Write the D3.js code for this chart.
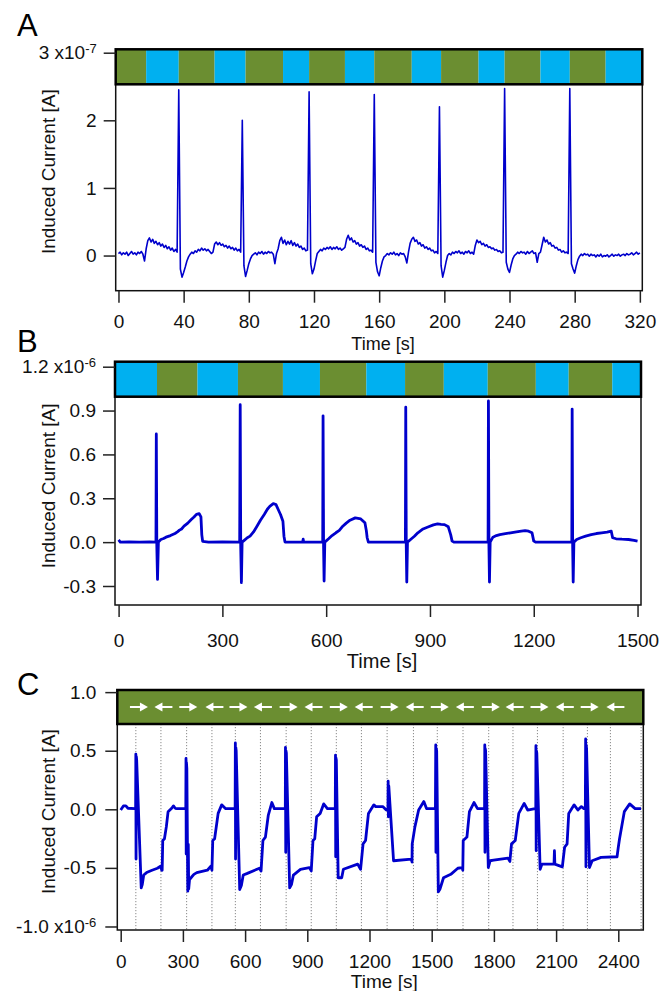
<!DOCTYPE html>
<html>
<head>
<meta charset="utf-8">
<script src="https://cdn.jsdelivr.net/npm/d3@7/dist/d3.min.js"></script>
<style>
  body { margin: 0; background: #fff; }
  svg { display: block; font-family: "Liberation Sans", Arial, Helvetica, sans-serif; }
</style>
</head>
<body>
<svg width="662" height="991"></svg>
<script>
// ---------- data ----------

// panel A: induced current (x1e-7 A), one sample per second, t = 0..320 s
const currentA = [
  0.03,0.05,0.01,0.04,0.02,0.05,0.00,0.03,0.06,0.02,0.04,0.01,0.05,0.03,0.06,0.02,-0.08,0.10,0.22,0.26,
  0.20,0.24,0.18,0.21,0.16,0.19,0.14,0.17,0.12,0.15,0.10,0.13,0.08,0.11,0.06,0.09,0.05,2.45,-0.20,-0.32,
  -0.25,-0.17,-0.08,-0.02,0.02,0.05,0.03,0.07,0.05,0.09,0.07,0.11,0.08,0.10,0.07,0.09,0.06,0.03,0.05,0.17,
  0.20,0.16,0.19,0.15,0.17,0.13,0.15,0.11,0.14,0.10,0.12,0.08,0.11,0.07,0.09,0.05,2.00,-0.15,-0.31,-0.22,
  -0.12,-0.05,0.00,0.02,0.04,0.01,0.05,0.03,0.06,0.02,0.05,0.03,0.06,0.04,0.05,0.02,-0.12,0.03,0.10,0.22,
  0.27,0.18,0.23,0.16,0.21,0.17,0.22,0.15,0.19,0.14,0.17,0.12,0.14,0.09,0.11,0.07,0.08,2.42,-0.12,-0.27,
  -0.20,-0.08,0.03,0.06,0.09,0.07,0.11,0.09,0.12,0.10,0.13,0.09,0.12,0.10,0.13,0.09,0.11,0.08,0.10,0.12,
  0.24,0.30,0.23,0.26,0.20,0.22,0.17,0.19,0.14,0.16,0.12,0.14,0.09,0.11,0.07,0.08,0.05,2.38,-0.10,-0.24,
  -0.30,-0.18,-0.08,-0.02,0.00,0.03,0.01,0.04,0.02,0.05,0.01,0.03,0.00,0.04,0.02,0.03,-0.02,-0.11,0.05,0.18,
  0.24,0.27,0.21,0.23,0.17,0.19,0.14,0.16,0.11,0.13,0.09,0.11,0.07,0.08,0.04,0.06,0.03,2.20,-0.15,-0.32,
  -0.22,-0.10,0.00,0.03,0.01,0.05,0.03,0.06,0.04,0.07,0.03,0.05,0.02,0.06,0.04,0.07,0.03,0.05,0.02,0.15,
  0.23,0.19,0.21,0.16,0.18,0.14,0.16,0.12,0.13,0.10,0.11,0.08,0.09,0.06,0.07,0.04,0.05,2.47,-0.10,-0.20,
  -0.25,-0.14,-0.05,0.00,0.02,0.05,0.03,0.06,0.04,0.05,0.02,0.06,0.03,0.05,0.07,0.03,0.04,-0.10,0.03,0.05,
  0.16,0.27,0.20,0.23,0.17,0.19,0.14,0.15,0.11,0.12,0.08,0.09,0.05,0.07,0.04,0.05,0.03,2.47,-0.12,-0.20,
  -0.26,-0.15,-0.06,-0.01,0.02,0.00,0.03,0.01,0.02,-0.01,0.02,0.00,0.01,-0.02,0.01,-0.01,0.02,-0.02,0.00,-0.01,
  0.01,-0.02,0.00,0.02,-0.01,0.01,0.00,0.02,-0.01,0.01,0.02,0.00,0.03,0.01,0.02,0.04,0.01,0.03,0.05,0.02,0.04
];
// light bar A: switch times (s), first block green
const barEdgesA = [17, 37, 59, 78, 101, 117, 139, 157, 180, 198, 221, 237, 259, 277, 299];

// panel B: [time s, current x1e-6 A]
const traceB = [
  [0,0.015],[5,0.0],[30,0.002],[60,0.0],[90,0.001],[108,0.0],
  [109,0.74],[110.5,-0.03],[112.5,-0.255],[115,0.0],[122,0.018],[130,0.025],[137,0.034],[150,0.045],[163,0.059],
  [170,0.07],[176,0.082],[182,0.09],[189,0.109],[200,0.13],[210,0.155],[218,0.172],[225,0.19],[233,0.195],
  [238,0.173],[240.5,0.05],[243,0.005],[260,0.0],[300,0.001],[350,0.0],
  [351.5,0.94],[353,-0.03],[355,-0.277],[357,0.0],[364,0.014],[372,0.03],[380,0.041],[390,0.07],[400,0.109],
  [410,0.15],[421,0.189],[430,0.225],[437,0.245],[447,0.264],[455,0.257],[462,0.22],[468,0.189],[475,0.143],
  [478,0.041],[481,0.0],[532,0.0],[533.5,0.02],[535,0.0],[590,0.0],
  [591,0.864],[592.5,-0.03],[594,-0.266],[596,0.0],[607,0.023],[617,0.045],[628,0.064],[638,0.08],[648,0.109],
  [658,0.13],[669,0.15],[684,0.166],[700,0.159],[712,0.132],[716,0.08],[718.5,0.03],[722,0.0],[829,0.0],
  [830,0.923],[831.5,-0.03],[833,-0.273],[835,0.0],[844,0.018],[855,0.04],[865,0.064],[880,0.09],[896,0.105],
  [910,0.118],[922,0.125],[932,0.122],[942,0.12],[953,0.105],[960,0.05],[964,0.007],[970,0.0],[1068,0.0],
  [1069,0.966],[1070.5,-0.03],[1072,-0.273],[1074,0.0],[1082,0.034],[1092,0.045],[1102,0.052],[1118,0.058],
  [1133,0.064],[1150,0.07],[1164,0.075],[1175,0.078],[1185,0.075],[1195,0.064],[1200,0.007],[1206,0.0],[1310,0.0],
  [1311,0.91],[1312.5,-0.03],[1314,-0.273],[1316,0.0],[1324,0.018],[1336,0.03],[1350,0.041],[1366,0.052],
  [1381,0.059],[1396,0.064],[1412,0.068],[1424,0.075],[1428,0.03],[1438,0.023],[1455,0.02],[1474,0.018],
  [1490,0.012],[1500,0.007]
];
// light bar B: switch times (s), first block blue
const barEdgesB = [111, 228, 345, 475, 582, 716, 828, 940, 1067, 1206, 1301, 1427];

// panel C: [time s, current x1e-6 A]
const traceC = [
  [0,-0.006],[13,0.029],[25,0.029],[35,0.009],[68,0.006],
  [72,0.0],[73,0.471],[74,-0.425],[75.5,0.45],[77,0.42],[99,-0.671],[104,-0.642],[111,-0.561],[125,-0.54],
  [151,-0.52],[177,-0.503],[194,-0.483],[197.6,-0.52],[200,-0.52],
  [202.8,-0.266],[211,-0.251],[220,-0.15],[228.6,-0.02],[237,-0.006],[246,0.009],[254.5,0.029],[263,0.009],
  [272,0.006],[310,0.006],
  [314,0.006],[315,0.434],[316,-0.382],[317,0.4],[319,0.35],[323.6,-0.699],[326,-0.3],[328,-0.68],[332,-0.6],
  [341,-0.58],[353,-0.555],[367,-0.54],[418,-0.52],[436,-0.483],[440,-0.52],
  [444,-0.266],[453,-0.251],[470,-0.035],[487,0.038],[505,0.006],[548,0.006],
  [552,0.006],[553,0.566],[554,-0.425],[555,0.53],[557,0.5],[574,-0.685],[582,-0.65],[591,-0.561],[608,-0.549],
  [669,-0.503],[677,-0.526],
  [686,-0.266],[698,-0.237],[712,-0.049],[729,0.058],[741,0.006],[790,0.006],
  [794,0.006],[794.7,0.529],[796,-0.367],[797,0.5],[799,0.48],[815,-0.671],[824,-0.64],[833,-0.561],
  [867,-0.512],[910,-0.497],[919,-0.526],
  [927.5,-0.266],[936,-0.251],[945,-0.064],[962,-0.035],[979,0.046],[997,0.006],[1031,0.006],
  [1035,0.006],[1036,0.462],[1037,-0.405],[1038,0.44],[1040,0.42],[1049,-0.584],[1066,-0.584],[1074,-0.512],
  [1143,-0.468],[1157,-0.512],
  [1169,-0.295],[1181,-0.266],[1195,-0.035],[1221,0.038],[1230,0.023],[1264,0.023],[1281,-0.006],
  [1289,0.0],[1290,0.24],[1291,-0.064],[1293,0.2],[1316,-0.439],[1402,-0.425],[1405,-0.45],
  [1406,-0.295],[1419,-0.15],[1437,-0.006],[1462,0.066],[1475,0.006],[1514,0.006],
  [1518,0.006],[1519.5,0.549],[1520.5,-0.367],[1522,0.52],[1524,0.5],[1532,-0.705],[1540,-0.68],[1557,-0.584],
  [1592,-0.555],[1626,-0.503],[1647,-0.497],[1650,-0.52],
  [1652,-0.266],[1670,-0.237],[1682,-0.02],[1704,0.058],[1721,0.006],[1751,0.006],
  [1755,0.006],[1756,0.549],[1757,-0.367],[1758,0.52],[1760,0.5],[1773,-0.497],[1782,-0.439],[1799,-0.434],
  [1868,-0.416],[1877,-0.445],
  [1885,-0.295],[1903,-0.266],[1920,-0.035],[1946,0.05],[1963,-0.006],[1998,0.006],
  [2002,0.006],[2002.7,0.543],[2004,-0.353],[2005,0.5],[2007,0.48],[2023,-0.512],[2032,-0.468],[2090,-0.468],
  [2092,-0.353],[2094,-0.468],[2130,-0.491],
  [2141,-0.324],[2153,-0.295],[2161,-0.035],[2187,0.038],[2205,-0.006],[2222,0.023],[2234,0.006],
  [2241,0.006],[2242.5,0.601],[2244,-0.491],[2245,0.55],[2247,0.52],[2261,-0.497],[2274,-0.439],[2317,-0.41],
  [2394,-0.405],
  [2400,-0.324],[2406,-0.251],[2429,-0.02],[2455,0.046],[2481,0.006],[2510,0.006]
];
// dotted markers (s) and arrow marks in the bar of panel C
const markTimesC = [73, 194, 318, 440, 553, 674, 798, 919, 1040, 1161, 1285, 1412, 1527, 1651, 1775, 1892, 2010, 2134, 2251, 2362, 2510];
const arrowTimesC = [88, 206, 326, 452, 568, 686, 810, 930, 1052, 1172, 1297, 1418, 1539, 1660, 1785, 1900, 2020, 2142, 2262, 2386];
const arrowDirC = ['R','L','R','L','R','L','R','L','R','L','R','L','R','L','R','L','R','L','R','L'];

// axis ticks
const xTicksA = [0, 40, 80, 120, 160, 200, 240, 280, 320];
const xTicksB = [0, 300, 600, 900, 1200, 1500];
const xTicksC = [0, 300, 600, 900, 1200, 1500, 1800, 2100, 2400];
const yTicksA = [0, 1, 2, 3];
const yTicksB = [-0.3, 0, 0.3, 0.6, 0.9, 1.2];
const yTicksC = [-1, -0.5, 0, 0.5, 1];

// ---------- drawing ----------
const svg = d3.select('svg');
const GREEN = '#6b8e31', BLUE = '#00b0f0', TRACE = '#0000cc';
const FONT = '"Liberation Sans", Arial, Helvetica, sans-serif';

function segmentsFrom(edges, domain, first) {
  const other = first === GREEN ? BLUE : GREEN;
  const starts = [domain[0], ...edges];
  const ends = [...edges, domain[1]];
  return starts.map((s, i) => ({ s, e: ends[i], c: i % 2 === 0 ? first : other }));
}

function drawPanel(p, idx) {
  const x = d3.scaleLinear().domain(p.xDomain).range([p.left, p.right]);
  const y = d3.scaleLinear().domain(p.yDomain).range([p.bottom, p.yTopPx]);
  const g = svg.append('g');

  // panel letter
  g.append('text').attr('x', 17).attr('y', p.letterY)
    .attr('font-size', 31).attr('font-family', FONT).attr('fill', '#000')
    .text(p.letter);

  // clip for the trace
  const clipId = 'clip' + idx;
  svg.append('clipPath').attr('id', clipId).append('rect')
    .attr('x', p.left).attr('y', p.plotTop)
    .attr('width', p.right - p.left).attr('height', p.bottom - p.plotTop);

  // top bar
  const bar = g.append('g');
  if (p.segments) {
    bar.selectAll('rect').data(p.segments).enter().append('rect')
      .attr('x', d => x(d.s)).attr('width', d => x(d.e) - x(d.s))
      .attr('y', p.barTop).attr('height', p.plotTop - p.barTop)
      .attr('fill', d => d.c);
  } else {
    bar.append('rect').attr('x', p.left).attr('width', p.right - p.left)
      .attr('y', p.barTop).attr('height', p.plotTop - p.barTop).attr('fill', GREEN);
  }

  // dotted markers (panel C)
  if (p.marks) {
    g.selectAll('line.mark').data(p.marks).enter().append('line')
      .attr('x1', d => x(d)).attr('x2', d => x(d))
      .attr('y1', p.plotTop).attr('y2', p.bottom)
      .attr('stroke', '#8a8a8a').attr('stroke-width', 1)
      .attr('stroke-dasharray', '1.2,1.8');
  }

  // trace
  const line = d3.line().x(d => x(d[0])).y(d => y(d[1]));
  g.append('path').datum(p.trace)
    .attr('clip-path', `url(#${clipId})`)
    .attr('d', line)
    .attr('fill', 'none').attr('stroke', TRACE)
    .attr('stroke-width', p.lw).attr('stroke-linejoin', 'round');

  // frames
  g.append('rect').attr('x', p.left).attr('y', p.plotTop)
    .attr('width', p.right - p.left).attr('height', p.bottom - p.plotTop)
    .attr('fill', 'none').attr('stroke', '#111').attr('stroke-width', 1.5);
  g.append('rect').attr('x', p.left).attr('y', p.barTop)
    .attr('width', p.right - p.left).attr('height', p.plotTop - p.barTop)
    .attr('fill', 'none').attr('stroke', '#000').attr('stroke-width', 2.5);

  // arrows in bar (panel C)
  if (p.arrows) {
    const cy = (p.barTop + p.plotTop) / 2;
    const ag = g.selectAll('g.arrow').data(p.arrows).enter().append('g')
      .attr('transform', d => `translate(${x(d.t)},${cy}) scale(${d.dir === 'R' ? 1 : -1},1)`);
    ag.append('line').attr('x1', -9).attr('x2', 2).attr('y1', 0).attr('y2', 0)
      .attr('stroke', '#fff').attr('stroke-width', 2);
    ag.append('path').attr('d', 'M1,-4.5L9,0L1,4.5Z').attr('fill', '#fff');
  }

  // y axis
  const ya = g.append('g').attr('transform', `translate(${p.left},0)`)
    .call(d3.axisLeft(y).tickValues(p.yTicks).tickSize(12).tickPadding(p.yPad)
      .tickFormat(p.yFormat));
  ya.select('.domain').remove();
  ya.selectAll('.tick line').attr('stroke', '#222').attr('stroke-width', 1.5);
  ya.selectAll('.tick text').attr('font-size', 19).attr('font-family', FONT).attr('fill', '#111');
  ya.selectAll('.tick').filter(d => d === p.expTick).select('text')
    .append('tspan').attr('dy', '-0.5em').attr('font-size', 13).text(p.exp);

  // x axis
  const xa = g.append('g').attr('transform', `translate(0,${p.bottom})`)
    .call(d3.axisBottom(x).tickValues(p.xTicks).tickSize(12).tickPadding(p.xPad)
      .tickFormat(d3.format('d')));
  xa.select('.domain').remove();
  xa.selectAll('.tick line').attr('stroke', '#222').attr('stroke-width', 1.5);
  xa.selectAll('.tick text').attr('font-size', 19).attr('font-family', FONT).attr('fill', '#111');

  // axis titles
  g.append('text').attr('x', (p.left + p.right) / 2 + 4).attr('y', p.timeY)
    .attr('text-anchor', 'middle').attr('font-size', p.timeSize)
    .attr('font-family', FONT).attr('fill', '#111').text('Time [s]');
  const yMid = (p.bottom + p.yTopPx) / 2;
  g.append('text').attr('transform', `translate(55,${yMid}) rotate(-90)`)
    .attr('text-anchor', 'middle').attr('font-size', 19)
    .attr('font-family', FONT).attr('fill', '#111').text('Induced Current [A]');
}

const fmt1 = d => d.toFixed(1);

const panels = [
  {
    letter: 'A', letterY: 36,
    left: 115.7, right: 642.3, barTop: 49.3, plotTop: 84.3, bottom: 290.7, yTopPx: 52.7,
    xDomain: [-1.7, 321.5], yDomain: [-0.52, 3],
    trace: currentA.map((v, i) => [i, v]), lw: 1.6,
    segments: segmentsFrom(barEdgesA, [-1.7, 321.5], GREEN),
    xTicks: xTicksA, yTicks: yTicksA, yPad: 7, xPad: 12,
    yFormat: d => d === 3 ? '3 x10' : String(d), expTick: 3, exp: '-7',
    timeY: 350, timeSize: 18
  },
  {
    letter: 'B', letterY: 352,
    left: 115, right: 641, barTop: 361.7, plotTop: 396.7, bottom: 605, yTopPx: 366.7,
    xDomain: [-10.4, 1510], yDomain: [-0.43, 1.2],
    trace: traceB, lw: 2.8,
    segments: segmentsFrom(barEdgesB, [-10.4, 1510], BLUE),
    xTicks: xTicksB, yTicks: yTicksB, yPad: 7, xPad: 17,
    yFormat: d => d === 1.2 ? '1.2 x10' : fmt1(d), expTick: 1.2, exp: '-6',
    timeY: 668, timeSize: 20
  },
  {
    letter: 'C', letterY: 695,
    left: 117.3, right: 643.3, barTop: 690, plotTop: 724, bottom: 930, yTopPx: 693.3,
    xDomain: [-16.4, 2520.6], yDomain: [-1.03, 0.99],
    trace: traceC, lw: 2.8,
    marks: markTimesC,
    arrows: arrowTimesC.map((t, i) => ({ t, dir: arrowDirC[i] })),
    xTicks: xTicksC, yTicks: yTicksC, yPad: 9, xPad: 13,
    yFormat: d => d === -1 ? '-1.0 x10' : fmt1(d), expTick: -1, exp: '-6',
    timeY: 988, timeSize: 19
  }
];

panels.forEach(drawPanel);
</script>
</body>
</html>
